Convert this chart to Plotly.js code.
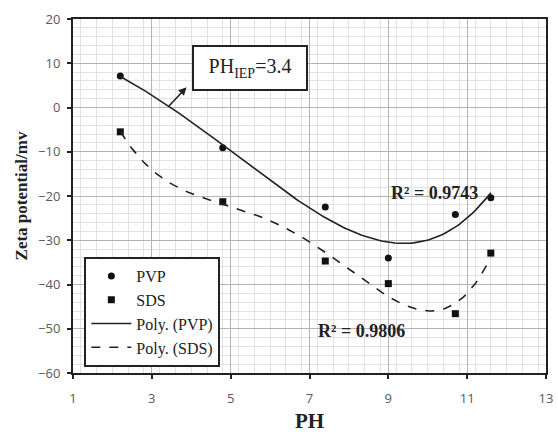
<!DOCTYPE html>
<html>
<head>
<meta charset="utf-8">
<script src="https://cdn.plot.ly/plotly-3.0.1.min.js"></script>
<style>html,body{margin:0;padding:0;background:#fff}#chart{width:558px;height:437px}</style>
</head>
<body>
<div id="chart"></div>
<script>
// Data
const phValues = [2.2, 4.8, 7.4, 9.0, 10.7, 11.6];
const pvpZeta = [7.1, -9.1, -22.5, -34.0, -24.2, -20.4];
const sdsZeta = [-5.5, -21.3, -34.7, -39.8, -46.6, -32.9];
const seriesNames = ["PVP", "SDS", "Poly. (PVP)", "Poly. (SDS)"];
const r2Labels = ["R\u00B2 = 0.9743", "R\u00B2 = 0.9806"];
const iepLabel = "PH<sub>IEP</sub>=3.4";
const iepValue = 3.4;
const trendOrder = [4, 4];

// Least-squares polynomial trendline (as the spreadsheet's "Poly." trendline)
function polyfit(xs, ys, deg) {
  const n = deg + 1;
  const A = [], b = [];
  for (let i = 0; i < n; i++) {
    A.push([]);
    for (let j = 0; j < n; j++) {
      let s = 0; for (const x of xs) s += Math.pow(x, i + j);
      A[i].push(s);
    }
    let t = 0; xs.forEach((x, k) => t += ys[k] * Math.pow(x, i));
    b.push(t);
  }
  for (let c = 0; c < n; c++) {
    let p = c;
    for (let r = c + 1; r < n; r++) if (Math.abs(A[r][c]) > Math.abs(A[p][c])) p = r;
    [A[c], A[p]] = [A[p], A[c]]; [b[c], b[p]] = [b[p], b[c]];
    for (let r = c + 1; r < n; r++) {
      const f = A[r][c] / A[c][c];
      for (let k = c; k < n; k++) A[r][k] -= f * A[c][k];
      b[r] -= f * b[c];
    }
  }
  const co = new Array(n).fill(0);
  for (let i = n - 1; i >= 0; i--) {
    let s = b[i];
    for (let k = i + 1; k < n; k++) s -= A[i][k] * co[k];
    co[i] = s / A[i][i];
  }
  return co;
}
function evalPoly(co, x) { return co.reduce((s, c, i) => s + c * Math.pow(x, i), 0); }
function trend(xs, ys, deg) {
  const co = polyfit(xs, ys, deg);
  const lo = Math.min(...xs), hi = Math.max(...xs);
  const cx = [], cy = [];
  for (let i = 0; i <= 120; i++) { const x = lo + (hi - lo) * i / 120; cx.push(x); cy.push(evalPoly(co, x)); }
  return { x: cx, y: cy };
}

const tP = trend(phValues, pvpZeta, trendOrder[0]);
const tS = trend(phValues, sdsZeta, trendOrder[1]);

const serif = "Liberation Serif, Times New Roman, serif";
const sans = "Open Sans, Liberation Sans, sans-serif";

const traces = [
  { x: phValues, y: pvpZeta, name: seriesNames[0], mode: "markers",
    marker: { symbol: "circle", size: 7, color: "#111" } },
  { x: phValues, y: sdsZeta, name: seriesNames[1], mode: "markers",
    marker: { symbol: "square", size: 7, color: "#111" } },
  { x: tP.x, y: tP.y, name: seriesNames[2], mode: "lines",
    line: { color: "#222", width: 1.6 } },
  { x: tS.x, y: tS.y, name: seriesNames[3], mode: "lines",
    line: { color: "#222", width: 1.6, dash: "dash" } }
];

const layout = {
  width: 558, height: 437,
  margin: { l: 73, r: 12, t: 19, b: 64 },
  paper_bgcolor: "#fff", plot_bgcolor: "#fff",
  showlegend: true,
  xaxis: {
    range: [1, 13], tick0: 1, dtick: 2, ticks: "outside", ticklen: 4, tickwidth: 2, tickcolor: "#222",
    showline: true, linewidth: 2, linecolor: "#222", mirror: true, zeroline: false,
    showgrid: true, gridcolor: "#b4b4b4", gridwidth: 1,
    minor: { dtick: 0.4, showgrid: true, gridcolor: "#e2e2e2", gridwidth: 1 },
    tickfont: { family: sans, size: 13, color: "#595959" }, ticklabelstandoff: 8,
    title: { text: "<b>PH</b>", font: { family: serif, size: 21, color: "#222" }, standoff: 8 }
  },
  yaxis: {
    range: [-60, 20], tick0: 0, dtick: 10, ticks: "outside", ticklen: 4, tickwidth: 2, tickcolor: "#222",
    showline: true, linewidth: 2, linecolor: "#222", mirror: true, zeroline: false,
    showgrid: true, gridcolor: "#b4b4b4", gridwidth: 1,
    minor: { dtick: 2, showgrid: true, gridcolor: "#e2e2e2", gridwidth: 1 },
    tickfont: { family: sans, size: 13, color: "#595959" }, ticklabelstandoff: 4,
    title: { text: "<b>Zeta potential/mv</b>", font: { family: serif, size: 17, color: "#222" }, standoff: 6 }
  },
  legend: {
    x: 0.024, y: 0.017, xanchor: "left", yanchor: "bottom",
    bgcolor: "#fff", bordercolor: "#222", borderwidth: 2,
    font: { family: serif, size: 16, color: "#222" },
    itemwidth: 40
  },
  annotations: [
    { x: 5.5, y: 8.85, xref: "x", yref: "y", text: iepLabel, showarrow: false,
      font: { family: serif, size: 20, color: "#222" },
      bgcolor: "#fff", bordercolor: "#222", borderwidth: 2, borderpad: 3, width: 106, height: 36 },
    { x: 3.88, y: 4.6, xref: "x", yref: "y", ax: iepValue, ay: 0, axref: "x", ayref: "y",
      text: "", showarrow: true, arrowhead: 2, arrowsize: 1, arrowwidth: 1.6, arrowcolor: "#222" },
    { x: 10.18, y: -19.4, xref: "x", yref: "y", text: "<b>" + r2Labels[0] + "</b>", showarrow: false,
      font: { family: serif, size: 18, color: "#222" } },
    { x: 8.32, y: -50.4, xref: "x", yref: "y", text: "<b>" + r2Labels[1] + "</b>", showarrow: false,
      font: { family: serif, size: 18, color: "#222" } }
  ]
};

Plotly.newPlot("chart", traces, layout, { displayModeBar: false, staticPlot: true });
</script>
</body>
</html>
